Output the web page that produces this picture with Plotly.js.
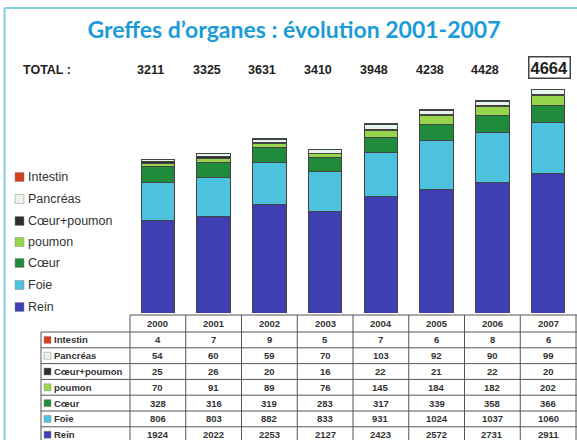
<!DOCTYPE html>
<html>
<head>
<meta charset="utf-8">
<script src="https://cdn.plot.ly/plotly-3.0.1.min.js"></script>
<style>html,body{margin:0;padding:0;background:#fff;}#chart{width:577px;height:440px;}</style>
</head>
<body>
<div id="chart"></div>
<script>
// ---- data ----
const years = ['2000','2001','2002','2003','2004','2005','2006','2007'];
const totals = [3211, 3325, 3631, 3410, 3948, 4238, 4428, 4664];
const intestin    = [4, 7, 9, 5, 7, 6, 8, 6];
const pancreas    = [54, 60, 59, 70, 103, 92, 90, 99];
const coeurPoumon = [25, 26, 20, 16, 22, 21, 22, 20];
const poumon      = [70, 91, 89, 76, 145, 184, 182, 202];
const coeur       = [328, 316, 319, 283, 317, 339, 358, 366];
const foie        = [806, 803, 882, 833, 931, 1024, 1037, 1060];
const rein        = [1924, 2022, 2253, 2127, 2423, 2572, 2731, 2911];
// stacking order, bottom to top
const seriesNames  = ['Rein', 'Foie', 'Cœur', 'poumon', 'Cœur+poumon', 'Pancréas', 'Intestin'];
const seriesValues = [rein, foie, coeur, poumon, coeurPoumon, pancreas, intestin];
const seriesColors = ['#3d3fb2', '#4cc2df', '#1f8b3b', '#97d64c', '#2e2e2e', '#e6f4ea', '#d2401c'];

// ---- layout geometry ----
const W = 577, H = 440;
const M = {l: 130, r: 1, t: 80, b: 127};
const PW = W - M.l - M.r, PH = H - M.t - M.b;
const px = x => (x - M.l) / PW;          // pixel -> paper x
const py = y => (M.t + PH - y) / PH;      // pixel -> paper y

const traces = seriesNames.map((n, k) => ({
  type: 'bar', name: n, x: years, y: seriesValues[k],
  marker: {color: seriesColors[k], line: {color: '#444', width: 1}},
  width: 0.6, showlegend: false, hoverinfo: 'name+y'
}));

const annotations = [];
const shapes = [];
const txt = '#333';
const FF = '"Liberation Sans", Arial, sans-serif';

// frame
shapes.push({type: 'line', xref: 'paper', yref: 'paper', x0: px(4.5), x1: px(577), y0: py(8), y1: py(8), line: {color: '#86d0e2', width: 2}});
shapes.push({type: 'line', xref: 'paper', yref: 'paper', x0: px(4.5), x1: px(4.5), y0: py(8), y1: py(440), line: {color: '#86d0e2', width: 2}});

// TOTAL row
annotations.push({xref: 'paper', yref: 'paper', x: px(21), y: py(70), xanchor: 'left', yanchor: 'middle', showarrow: false,
  text: '<b>TOTAL :</b>', font: {family: FF, size: 12.5, color: '#222'}});
totals.forEach((t, i) => {
  const last = i === totals.length - 1;
  annotations.push({xref: 'x', yref: 'paper', x: i, y: py(last ? 67 : 70), xshift: last ? 1 : -7, yanchor: 'middle', showarrow: false,
    text: '<b>' + t + '</b>', font: {family: FF, size: last ? 16.5 : 12.5, color: '#222'},
    bordercolor: last ? '#444' : 'rgba(0,0,0,0)', borderwidth: last ? 1.5 : 0, borderpad: last ? 1 : 0});
});

// left legend (top-down: reversed stacking order)
const legendY = [177, 199, 221, 242, 263, 285, 307];
for (let j = 0; j < seriesNames.length; j++) {
  const k = seriesNames.length - 1 - j;
  const yc = legendY[j];
  shapes.push({type: 'rect', xref: 'paper', yref: 'paper', x0: px(15), x1: px(24), y0: py(yc - 4.5), y1: py(yc + 4.5),
    fillcolor: seriesColors[k], line: {color: '#888', width: 0.5}});
  annotations.push({xref: 'paper', yref: 'paper', x: px(26), y: py(yc), xanchor: 'left', yanchor: 'middle', showarrow: false,
    text: seriesNames[k], font: {family: FF, size: 12.5, color: txt}});
}

// table
const rowTop = 315, headH = 17, rowH = 15.8;
const lineC = '#555';
years.forEach((yr, i) => {
  annotations.push({xref: 'x', yref: 'paper', x: i, y: py(rowTop + headH / 2), yanchor: 'middle', showarrow: false,
    text: '<b>' + yr + '</b>', font: {family: FF, size: 9.5, color: txt}});
});
shapes.push({type: 'line', xref: 'paper', yref: 'paper', x0: px(130), x1: px(577), y0: py(rowTop), y1: py(rowTop), line: {color: lineC, width: 1}});
for (let r = 0; r <= seriesNames.length; r++) {
  const yl = rowTop + headH + r * rowH;
  shapes.push({type: 'line', xref: 'paper', yref: 'paper', x0: px(41), x1: px(577), y0: py(yl), y1: py(yl), line: {color: lineC, width: 1}});
}
for (let i = 0; i <= years.length; i++) {
  const xl = M.l + i * PW / years.length;
  shapes.push({type: 'line', xref: 'paper', yref: 'paper', x0: px(xl), x1: px(xl),
    y0: py(rowTop), y1: py(440), line: {color: lineC, width: 1}});
}
shapes.push({type: 'line', xref: 'paper', yref: 'paper', x0: px(41), x1: px(41), y0: py(rowTop + headH), y1: py(440), line: {color: lineC, width: 1}});
for (let j = 0; j < seriesNames.length; j++) {
  const k = seriesNames.length - 1 - j;
  const yc = rowTop + headH + j * rowH + rowH / 2;
  shapes.push({type: 'rect', xref: 'paper', yref: 'paper', x0: px(44), x1: px(51), y0: py(yc - 3.5), y1: py(yc + 3.5),
    fillcolor: seriesColors[k], line: {color: '#888', width: 0.5}});
  annotations.push({xref: 'paper', yref: 'paper', x: px(52), y: py(yc), xanchor: 'left', yanchor: 'middle', showarrow: false,
    text: '<b>' + seriesNames[k] + '</b>', font: {family: FF, size: 9.5, color: txt}});
  seriesValues[k].forEach((v, i) => {
    annotations.push({xref: 'x', yref: 'paper', x: i, y: py(yc), yanchor: 'middle', showarrow: false,
      text: '<b>' + v + '</b>', font: {family: FF, size: 9.5, color: txt}});
  });
}

const layout = {
  width: W, height: H,
  margin: M,
  paper_bgcolor: '#fff', plot_bgcolor: '#fff',
  barmode: 'stack',
  title: {text: '<b>Greffes d’organes : évolution 2001-2007</b>', xref: 'container', yref: 'container',
    x: 294 / W, xanchor: 'center', y: 1 - 30 / H, yanchor: 'middle',
    font: {family: 'Lato, "Open Sans", sans-serif', size: 23, color: '#1b9bd7'}},
  xaxis: {type: 'category', range: [-0.5, 7.5], showgrid: false, zeroline: false, showticklabels: false, showline: false, ticks: '', fixedrange: true},
  yaxis: {range: [0, 4860], showgrid: false, zeroline: false, showticklabels: false, showline: false, ticks: '', fixedrange: true},
  showlegend: false,
  annotations: annotations,
  shapes: shapes
};

Plotly.newPlot('chart', traces, layout, {displayModeBar: false, staticPlot: true});
</script>
</body>
</html>
